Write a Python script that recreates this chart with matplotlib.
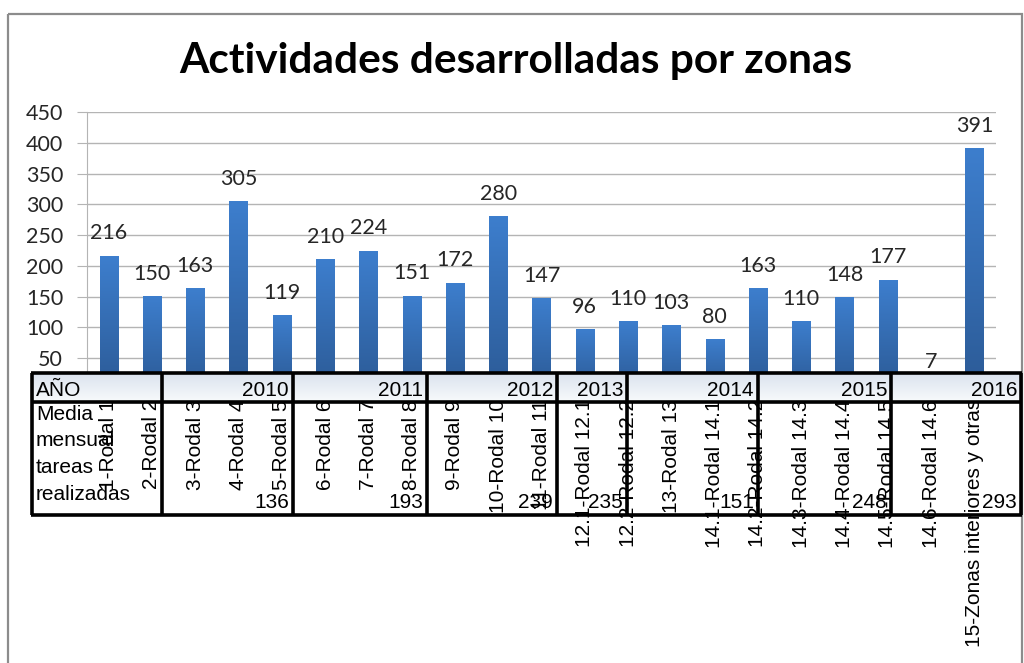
import matplotlib
matplotlib.use("Agg")
import matplotlib.pyplot as plt
import numpy as np
from matplotlib.colors import LinearSegmentedColormap
from matplotlib.patches import Rectangle

categories = ['1-Rodal 1', '2-Rodal 2', '3-Rodal 3', '4-Rodal 4', '5-Rodal 5',
              '6-Rodal 6', '7-Rodal 7', '8-Rodal 8', '9-Rodal 9', '10-Rodal 10',
              '11-Rodal 11', '12.1-Rodal 12.1', '12.2-Rodal 12.2', '13-Rodal 13',
              '14.1-Rodal 14.1', '14.2-Rodal 14.2', '14.3-Rodal 14.3',
              '14.4-Rodal 14.4', '14.5-Rodal 14.5', '14.6-Rodal 14.6',
              '15-Zonas interiores y otras']
values = [216, 150, 163, 305, 119, 210, 224, 151, 172, 280, 147,
          96, 110, 103, 80, 163, 110, 148, 177, 7, 391]

years = ['2010', '2011', '2012', '2013', '2014', '2015', '2016']
monthly_mean = [136, 193, 239, 235, 151, 248, 293]

W, H = 1024, 663
fig = plt.figure(figsize=(W / 100, H / 100), dpi=100)
fig.patch.set_facecolor('white')

# main bar axes, placed in pixel terms
ax_l, ax_r, ax_t, ax_b = 87, 996, 112, 389
ax = fig.add_axes([ax_l / W, 1 - ax_b / H, (ax_r - ax_l) / W, (ax_b - ax_t) / H])

x = np.arange(len(values))
bar_w = 0.42
bars = ax.bar(x, values, width=bar_w, color='#3470bb', zorder=2)

# vertical gradient on every bar
cmap = LinearSegmentedColormap.from_list('barg', ['#2c5b97', '#3d7ecd'])
grad = np.linspace(1, 0, 100).reshape(-1, 1)
for b in bars:
    x0 = b.get_x()
    h = b.get_height()
    ax.imshow(grad, extent=[x0, x0 + bar_w, 0, h], origin='upper', aspect='auto',
              cmap=cmap, interpolation='bilinear', zorder=3)

for i, v in enumerate(values):
    ax.annotate(str(v), (i, v), xytext=(0, 12), textcoords='offset points',
                ha='center', va='baseline', fontsize=15.5, family='Lato',
                color='#262626', zorder=4)

ax.set_xlim(-0.5, len(values) - 0.5)
ax.set_ylim(0, 450)
ax.set_yticks(np.arange(0, 451, 50))
ax.yaxis.grid(True, color='#b4b4b4', lw=1)
ax.set_axisbelow(True)
for s in ['top', 'right', 'bottom']:
    ax.spines[s].set_visible(False)
ax.spines['left'].set_color('#b4b4b4')
ax.tick_params(axis='y', length=7.2, color='#b4b4b4', pad=10, labelsize=15.5,
               labelcolor='#262626')
for lab in ax.get_yticklabels():
    lab.set_family('Lato')
ax.set_xticks(x)
ax.set_xticklabels(categories, rotation=90, fontsize=15, family='Liberation Sans')
ax.tick_params(axis='x', length=0, pad=7.2)

fig.text(516 / W, 1 - 73 / H, 'Actividades desarrolladas por zonas', ha='center',
         va='baseline', fontsize=30.5, weight='bold', family='Lato')

# overlay in pixel coordinates for the data table and frame
ov = fig.add_axes([0, 0, 1, 1], zorder=5)
ov.set_xlim(0, W)
ov.set_ylim(H, 0)
ov.axis('off')
ov.patch.set_alpha(0)

ov.add_patch(Rectangle((8, 14), 1014, 700, fill=False, ec='#8c8c8c', lw=1.6))

cols = [32, 162, 293, 427, 557, 627, 758, 891, 1021]
rows = [373, 402, 515]
row_grad = LinearSegmentedColormap.from_list('rowg', ['#dbe3ee', '#f8fafc'])
ov.imshow(np.linspace(0, 1, 50).reshape(-1, 1), extent=[cols[0], cols[-1], rows[1], rows[0]],
          origin='upper', aspect='auto', cmap=row_grad, interpolation='bilinear')
ov.set_xlim(0, W)
ov.set_ylim(H, 0)

for yy in rows:
    ov.plot([cols[0] - 1, cols[-1] + 1], [yy, yy], color='black', lw=2.6,
            solid_capstyle='butt')
for xx in cols:
    ov.plot([xx, xx], [rows[0], rows[-1]], color='black', lw=2.6, solid_capstyle='butt')

tfont = dict(fontsize=15, family='Liberation Sans', color='black')
ov.text(36, 396, 'AÑO', ha='left', va='baseline', **tfont)
for k, yr in enumerate(years):
    ov.text(cols[k + 2] - 4, 396, yr, ha='right', va='baseline', **tfont)
    ov.text(cols[k + 2] - 4, 508, str(monthly_mean[k]), ha='right', va='baseline', **tfont)
ov.text(36, 405, 'Media\nmensual\ntareas\nrealizadas', ha='left', va='top',
        linespacing=1.5, **tfont)

fig.savefig('out.png', dpi=100)
